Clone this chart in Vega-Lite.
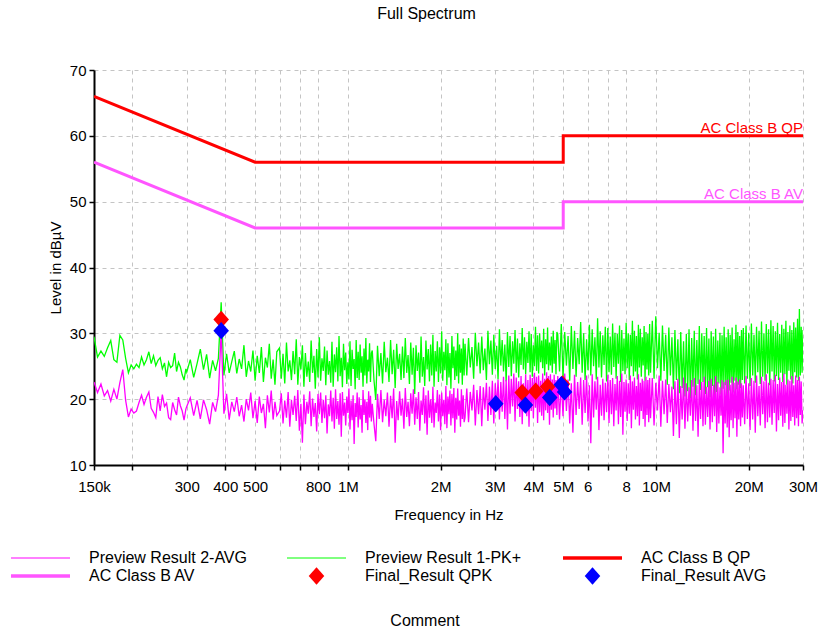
{
  "$schema": "https://vega.github.io/schema/vega-lite/v6.json",
  "width": 709,
  "height": 395,
  "autosize": {"type": "none"},
  "padding": {"left": 94, "top": 70, "right": 24, "bottom": 165},
  "background": "white",
  "config": {
    "font": "Liberation Sans",
    "view": {"stroke": null},
    "axis": {
      "domainColor": "black", "domainWidth": 2, "tickColor": "black", "tickWidth": 1.5, "tickSize": 5,
      "labelFont": "Liberation Sans", "labelFontSize": 15, "labelColor": "black",
      "titleFont": "Liberation Sans", "titleFontSize": 15, "titleFontWeight": "normal", "titleColor": "black",
      "grid": true, "gridColor": "#c4c4c4", "gridDash": [4, 4], "gridWidth": 1,
      "labelOverlap": false, "labelFlush": false, "labelBound": false
    }
  },
  "title": {
    "text": "Full Spectrum", "anchor": "middle", "frame": "group", "dx": -22, "offset": 41,
    "fontSize": 16, "fontWeight": "normal", "font": "Liberation Sans", "color": "black"
  },
  "datasets": {
    "trace": [
      {"f":0.150,"p":29.5,"a":22.6},{"f":0.154,"p":26.4,"a":21.0},{"f":0.158,"p":27.3,"a":22.3},{"f":0.162,"p":26.5,"a":20.5},{"f":0.166,"p":27.8,"a":21.3},{"f":0.170,"p":28.9,"a":19.7},{"f":0.174,"p":26.0,"a":21.5},{"f":0.178,"p":25.6,"a":20.0},{"f":0.182,"p":29.7,"a":22.5},{"f":0.186,"p":29.0,"a":24.5},{"f":0.190,"p":26.2,"a":19.8},{"f":0.194,"p":24.0,"a":17.3},{"f":0.198,"p":25.2,"a":18.5},{"f":0.202,"p":24.6,"a":17.9},{"f":0.206,"p":25.3,"a":18.2},{"f":0.210,"p":24.8,"a":19.5},{"f":0.214,"p":26.4,"a":20.6},{"f":0.218,"p":25.2,"a":19.2},{"f":0.222,"p":26.0,"a":20.3},{"f":0.226,"p":27.2,"a":21.1},{"f":0.230,"p":25.4,"a":18.6},{"f":0.234,"p":26.6,"a":18.0},{"f":0.238,"p":25.1,"a":17.2},{"f":0.242,"p":25.9,"a":20.4},{"f":0.246,"p":26.3,"a":18.2},{"f":0.250,"p":24.6,"a":20.7},{"f":0.254,"p":25.5,"a":18.9},{"f":0.258,"p":23.4,"a":19.4},{"f":0.262,"p":25.6,"a":17.2},{"f":0.266,"p":24.8,"a":16.9},{"f":0.270,"p":25.1,"a":19.5},{"f":0.274,"p":27.0,"a":18.4},{"f":0.278,"p":24.2,"a":17.6},{"f":0.282,"p":25.6,"a":20.3},{"f":0.286,"p":24.9,"a":19.0},{"f":0.290,"p":23.7,"a":18.2},{"f":0.294,"p":22.9,"a":16.8},{"f":0.298,"p":24.6,"a":18.5},
      {"f":0.300,"p":24.1,"a":18.9},{"f":0.308,"p":26.0,"a":20.2},{"f":0.316,"p":23.3,"a":17.5},{"f":0.324,"p":25.4,"a":19.8},{"f":0.332,"p":27.6,"a":17.0},{"f":0.340,"p":24.5,"a":19.9},{"f":0.348,"p":26.8,"a":18.4},{"f":0.356,"p":23.2,"a":16.2},{"f":0.364,"p":25.9,"a":19.5},{"f":0.372,"p":24.3,"a":18.1},{"f":0.380,"p":26.2,"a":20.6},{"f":0.388,"p":34.7,"a":30.4},{"f":0.396,"p":23.6,"a":17.8},{"f":0.404,"p":26.9,"a":20.8},{"f":0.412,"p":24.0,"a":16.9},{"f":0.420,"p":25.7,"a":19.6},{"f":0.428,"p":27.3,"a":18.1},{"f":0.436,"p":23.9,"a":20.3},{"f":0.444,"p":26.1,"a":17.4},{"f":0.452,"p":24.6,"a":19.1},{"f":0.460,"p":28.2,"a":16.6},{"f":0.468,"p":23.4,"a":20.0},{"f":0.476,"p":25.8,"a":18.3},{"f":0.484,"p":24.2,"a":21.0},{"f":0.492,"p":27.4,"a":17.1},{"f":0.500,"p":22.8,"a":19.7},{"f":0.508,"p":26.6,"a":16.4},{"f":0.516,"p":24.0,"a":20.4},{"f":0.524,"p":27.9,"a":17.9},{"f":0.532,"p":22.6,"a":19.3},{"f":0.540,"p":26.3,"a":15.6},{"f":0.548,"p":24.8,"a":20.6},{"f":0.556,"p":28.4,"a":18.0},{"f":0.564,"p":23.1,"a":21.3},{"f":0.572,"p":26.0,"a":16.9},{"f":0.580,"p":22.2,"a":19.6},{"f":0.588,"p":27.2,"a":17.5},
      {"f":0.600,"p":27.8,"a":18.2},{"f":0.608,"p":23.1,"a":20.9},{"f":0.616,"p":26.9,"a":16.3},{"f":0.624,"p":22.4,"a":19.8},{"f":0.632,"p":28.6,"a":17.2},{"f":0.640,"p":24.2,"a":21.1},{"f":0.648,"p":25.9,"a":15.8},{"f":0.656,"p":22.9,"a":19.9},{"f":0.664,"p":27.3,"a":17.6},{"f":0.672,"p":23.8,"a":20.5},
      {"f":0.680,"p":29.1,"a":16.7},{"f":0.688,"p":22.2,"a":21.4},{"f":0.696,"p":26.4,"a":15.2},{"f":0.704,"p":24.5,"a":19.3},{"f":0.712,"p":28.2,"a":13.4},{"f":0.720,"p":21.9,"a":20.7},{"f":0.728,"p":27.0,"a":16.2},{"f":0.736,"p":23.4,"a":19.6},{"f":0.744,"p":25.7,"a":17.8},{"f":0.752,"p":22.6,"a":21.2},
      {"f":0.760,"p":28.9,"a":15.9},{"f":0.768,"p":24.0,"a":20.1},{"f":0.776,"p":26.6,"a":17.3},{"f":0.784,"p":21.6,"a":19.4},{"f":0.792,"p":27.6,"a":15.1},{"f":0.800,"p":23.3,"a":20.8},{"f":0.808,"p":29.4,"a":17.7},{"f":0.816,"p":22.8,"a":21.0},{"f":0.824,"p":26.2,"a":16.4},{"f":0.832,"p":24.3,"a":19.9},
      {"f":0.840,"p":28.0,"a":17.1},{"f":0.848,"p":22.1,"a":20.6},{"f":0.856,"p":27.4,"a":14.8},{"f":0.864,"p":23.7,"a":19.2},{"f":0.872,"p":25.8,"a":17.4},{"f":0.880,"p":22.5,"a":21.3},{"f":0.888,"p":28.7,"a":16.6},{"f":0.896,"p":21.9,"a":20.2},{"f":0.904,"p":26.8,"a":15.5},{"f":0.912,"p":24.1,"a":21.5},
      {"f":0.920,"p":27.9,"a":17.0},{"f":0.928,"p":22.7,"a":19.7},{"f":0.936,"p":29.6,"a":16.1},{"f":0.944,"p":23.5,"a":20.9},{"f":0.952,"p":26.3,"a":14.3},{"f":0.960,"p":21.8,"a":21.1},{"f":0.968,"p":28.4,"a":17.5},{"f":0.976,"p":24.4,"a":19.5},{"f":0.984,"p":27.1,"a":16.0},{"f":0.992,"p":22.3,"a":20.4},
      {"f":1.000,"p":25.6,"a":17.9},{"f":1.008,"p":23.0,"a":21.6},{"f":1.016,"p":28.8,"a":15.4},{"f":1.024,"p":22.0,"a":19.8},{"f":1.032,"p":27.5,"a":16.8},{"f":1.040,"p":24.6,"a":20.6},{"f":1.048,"p":26.1,"a":13.2},{"f":1.056,"p":21.5,"a":19.4},{"f":1.064,"p":29.0,"a":17.3},{"f":1.072,"p":23.2,"a":21.0},
      {"f":1.080,"p":27.2,"a":15.7},{"f":1.088,"p":22.9,"a":20.3},{"f":1.096,"p":28.3,"a":16.9},{"f":1.104,"p":24.0,"a":19.1},{"f":1.112,"p":26.5,"a":14.9},{"f":1.120,"p":21.9,"a":21.4},{"f":1.128,"p":27.7,"a":17.6},{"f":1.136,"p":23.6,"a":20.0},{"f":1.144,"p":29.3,"a":16.4},{"f":1.152,"p":22.4,"a":19.6},
      {"f":1.160,"p":26.0,"a":15.3},{"f":1.168,"p":24.2,"a":21.2},{"f":1.176,"p":28.5,"a":17.2},{"f":1.184,"p":22.6,"a":20.5},{"f":1.192,"p":27.0,"a":16.6},
      {"f":1.200,"p":27.4,"a":19.3},{"f":1.216,"p":22.8,"a":16.2},{"f":1.232,"p":19.9,"a":13.6},{"f":1.248,"p":28.1,"a":20.8},{"f":1.264,"p":23.5,"a":17.0},{"f":1.280,"p":27.0,"a":21.4},{"f":1.296,"p":22.4,"a":16.5},{"f":1.312,"p":28.7,"a":19.9},{"f":1.328,"p":24.1,"a":17.4},{"f":1.344,"p":26.3,"a":21.0},
      {"f":1.360,"p":22.6,"a":15.8},{"f":1.376,"p":29.0,"a":20.5},{"f":1.392,"p":23.8,"a":17.1},{"f":1.408,"p":27.5,"a":21.6},{"f":1.424,"p":21.7,"a":13.4},{"f":1.440,"p":28.4,"a":19.7},{"f":1.456,"p":24.6,"a":16.8},{"f":1.472,"p":26.9,"a":21.2},{"f":1.488,"p":22.9,"a":17.5},{"f":1.504,"p":28.0,"a":20.1},
      {"f":1.520,"p":23.2,"a":15.5},{"f":1.536,"p":29.3,"a":21.7},{"f":1.552,"p":24.0,"a":17.3},{"f":1.568,"p":26.7,"a":19.6},{"f":1.584,"p":22.3,"a":15.9},{"f":1.600,"p":28.6,"a":20.9},{"f":1.616,"p":23.7,"a":17.8},{"f":1.632,"p":27.8,"a":21.5},{"f":1.648,"p":20.8,"a":16.1},{"f":1.664,"p":28.2,"a":20.3},
      {"f":1.680,"p":24.3,"a":17.0},{"f":1.696,"p":27.1,"a":21.1},{"f":1.712,"p":22.5,"a":15.2},{"f":1.728,"p":29.5,"a":19.8},{"f":1.744,"p":23.4,"a":17.6},{"f":1.760,"p":26.4,"a":21.8},{"f":1.776,"p":22.0,"a":16.3},{"f":1.792,"p":28.9,"a":20.6},{"f":1.808,"p":24.5,"a":14.6},{"f":1.824,"p":27.6,"a":21.3},
      {"f":1.840,"p":22.7,"a":17.2},{"f":1.856,"p":28.3,"a":20.0},{"f":1.872,"p":23.6,"a":16.4},{"f":1.888,"p":29.8,"a":21.9},{"f":1.904,"p":21.9,"a":15.7},{"f":1.920,"p":27.3,"a":19.5},{"f":1.936,"p":24.2,"a":17.9},{"f":1.952,"p":28.8,"a":21.4},{"f":1.968,"p":22.6,"a":16.6},{"f":1.984,"p":27.9,"a":20.7},
      {"f":2.000,"p":23.9,"a":15.3},{"f":2.016,"p":30.3,"a":21.0},{"f":2.032,"p":22.8,"a":17.4},{"f":2.048,"p":27.2,"a":19.9},{"f":2.064,"p":24.4,"a":16.2},{"f":2.080,"p":29.1,"a":22.0},{"f":2.096,"p":22.1,"a":15.6},{"f":2.112,"p":28.5,"a":20.4},{"f":2.128,"p":23.3,"a":17.7},{"f":2.144,"p":27.0,"a":21.3},
      {"f":2.160,"p":21.6,"a":16.0},{"f":2.176,"p":29.6,"a":20.8},{"f":2.192,"p":24.7,"a":17.1},{"f":2.208,"p":28.0,"a":21.7},{"f":2.224,"p":22.9,"a":14.9},{"f":2.240,"p":27.4,"a":20.2},{"f":2.256,"p":23.5,"a":16.9},{"f":2.272,"p":30.0,"a":21.6},{"f":2.288,"p":22.4,"a":17.5},{"f":2.304,"p":28.3,"a":19.8},
      {"f":2.320,"p":24.0,"a":15.8},{"f":2.336,"p":27.7,"a":21.5},{"f":2.352,"p":22.2,"a":17.0},{"f":2.368,"p":29.2,"a":20.6},{"f":2.384,"p":23.6,"a":16.5},
      {"f":2.400,"p":28.4,"a":17.2},{"f":2.432,"p":23.6,"a":21.6},{"f":2.464,"p":29.3,"a":16.5},{"f":2.496,"p":24.8,"a":21.1},{"f":2.528,"p":27.9,"a":18.3},{"f":2.560,"p":23.1,"a":22.2},{"f":2.592,"p":30.1,"a":16.0},{"f":2.624,"p":25.0,"a":21.4},{"f":2.656,"p":28.6,"a":17.7},{"f":2.688,"p":23.9,"a":22.0},
      {"f":2.720,"p":29.5,"a":15.9},{"f":2.752,"p":24.4,"a":21.8},{"f":2.784,"p":27.7,"a":18.4},{"f":2.816,"p":22.9,"a":22.5},{"f":2.848,"p":30.4,"a":16.7},{"f":2.880,"p":25.3,"a":21.9},{"f":2.912,"p":28.9,"a":17.6},{"f":2.944,"p":23.7,"a":22.8},{"f":2.976,"p":29.8,"a":16.3},{"f":3.008,"p":24.6,"a":22.4},
      {"f":3.040,"p":28.1,"a":18.8},{"f":3.072,"p":23.0,"a":23.0},{"f":3.104,"p":30.6,"a":16.9},{"f":3.136,"p":25.1,"a":22.6},{"f":3.168,"p":29.0,"a":18.1},{"f":3.200,"p":24.2,"a":23.4},{"f":3.232,"p":28.3,"a":17.0},{"f":3.264,"p":22.7,"a":22.9},{"f":3.296,"p":30.2,"a":15.4},{"f":3.328,"p":24.9,"a":23.6},
      {"f":3.360,"p":29.6,"a":17.8},{"f":3.392,"p":23.5,"a":23.1},{"f":3.424,"p":28.8,"a":18.9},{"f":3.456,"p":25.4,"a":23.9},{"f":3.488,"p":30.5,"a":16.6},{"f":3.520,"p":24.0,"a":23.3},{"f":3.552,"p":29.2,"a":18.5},{"f":3.584,"p":23.3,"a":22.7},{"f":3.616,"p":28.5,"a":17.3},{"f":3.648,"p":25.2,"a":23.5},
      {"f":3.680,"p":30.8,"a":16.2},{"f":3.712,"p":24.5,"a":22.4},{"f":3.744,"p":29.4,"a":18.6},{"f":3.776,"p":23.8,"a":23.8},{"f":3.808,"p":28.7,"a":17.4},{"f":3.840,"p":25.5,"a":22.9},{"f":3.872,"p":30.3,"a":15.8},{"f":3.904,"p":24.1,"a":23.7},{"f":3.936,"p":29.9,"a":18.2},{"f":3.968,"p":23.4,"a":23.2},
      {"f":4.000,"p":28.2,"a":17.1},{"f":4.032,"p":25.0,"a":24.0},{"f":4.064,"p":31.0,"a":18.7},{"f":4.096,"p":24.3,"a":23.4},{"f":4.128,"p":29.7,"a":16.4},{"f":4.160,"p":23.9,"a":23.6},{"f":4.192,"p":30.0,"a":18.0},{"f":4.224,"p":25.6,"a":22.8},{"f":4.256,"p":28.9,"a":17.5},{"f":4.288,"p":24.7,"a":23.9},
      {"f":4.320,"p":30.7,"a":16.8},{"f":4.352,"p":23.6,"a":23.1},{"f":4.384,"p":29.1,"a":18.3},{"f":4.416,"p":25.3,"a":24.1},{"f":4.448,"p":30.9,"a":17.9},{"f":4.480,"p":24.4,"a":23.5},{"f":4.512,"p":28.6,"a":16.1},{"f":4.544,"p":25.1,"a":23.8},{"f":4.576,"p":29.5,"a":18.4},{"f":4.608,"p":24.0,"a":23.0},
      {"f":4.640,"p":30.4,"a":17.2},{"f":4.672,"p":25.4,"a":23.7},{"f":4.704,"p":29.0,"a":18.6},{"f":4.736,"p":23.8,"a":22.9},{"f":4.768,"p":30.2,"a":17.6},
      {"f":4.800,"p":29.8,"a":23.5},{"f":4.864,"p":24.2,"a":16.9},{"f":4.928,"p":31.4,"a":22.8},{"f":4.992,"p":23.2,"a":17.4},{"f":5.056,"p":30.2,"a":23.9},{"f":5.120,"p":25.1,"a":18.2},{"f":5.184,"p":29.6,"a":23.0},{"f":5.248,"p":22.8,"a":16.3},{"f":5.312,"p":31.1,"a":22.4},{"f":5.376,"p":24.6,"a":14.9},
      {"f":5.440,"p":30.4,"a":23.7},{"f":5.504,"p":23.4,"a":17.6},{"f":5.568,"p":29.3,"a":22.6},{"f":5.632,"p":25.3,"a":18.5},{"f":5.696,"p":31.7,"a":23.3},{"f":5.760,"p":24.0,"a":16.1},{"f":5.824,"p":30.0,"a":22.9},{"f":5.888,"p":22.9,"a":17.9},{"f":5.952,"p":29.1,"a":23.6},{"f":6.016,"p":24.4,"a":16.6},
      {"f":6.080,"p":31.3,"a":22.1},{"f":6.144,"p":23.6,"a":13.3},{"f":6.208,"p":30.6,"a":23.8},{"f":6.272,"p":25.0,"a":17.2},{"f":6.336,"p":29.4,"a":22.7},{"f":6.400,"p":23.0,"a":18.4},{"f":6.464,"p":32.3,"a":23.4},{"f":6.528,"p":24.8,"a":15.3},{"f":6.592,"p":30.3,"a":22.2},{"f":6.656,"p":23.3,"a":17.5},
      {"f":6.720,"p":29.7,"a":23.1},{"f":6.784,"p":25.2,"a":16.8},{"f":6.848,"p":31.0,"a":22.5},{"f":6.912,"p":22.7,"a":18.0},{"f":6.976,"p":30.8,"a":23.7},{"f":7.040,"p":24.1,"a":16.4},{"f":7.104,"p":29.5,"a":22.9},{"f":7.168,"p":23.7,"a":17.7},{"f":7.232,"p":31.5,"a":23.2},{"f":7.296,"p":24.9,"a":15.9},
      {"f":7.360,"p":30.1,"a":22.3},{"f":7.424,"p":23.1,"a":18.3},{"f":7.488,"p":29.9,"a":23.5},{"f":7.552,"p":25.4,"a":16.2},{"f":7.616,"p":31.2,"a":22.8},{"f":7.680,"p":22.6,"a":17.3},{"f":7.744,"p":30.5,"a":23.9},{"f":7.808,"p":24.3,"a":14.6},{"f":7.872,"p":29.2,"a":22.6},{"f":7.936,"p":23.8,"a":18.1},
      {"f":8.000,"p":31.6,"a":23.0},{"f":8.064,"p":24.7,"a":16.7},{"f":8.128,"p":30.0,"a":22.4},{"f":8.192,"p":22.9,"a":17.8},{"f":8.256,"p":29.8,"a":23.6},{"f":8.320,"p":25.0,"a":15.6},{"f":8.384,"p":31.9,"a":22.7},{"f":8.448,"p":23.5,"a":18.4},{"f":8.512,"p":30.4,"a":23.3},{"f":8.576,"p":24.2,"a":16.9},
      {"f":8.640,"p":29.6,"a":22.0},{"f":8.704,"p":23.0,"a":17.4},{"f":8.768,"p":31.3,"a":23.8},{"f":8.832,"p":24.8,"a":16.0},{"f":8.896,"p":30.7,"a":22.5},{"f":8.960,"p":23.4,"a":18.2},{"f":9.024,"p":29.4,"a":23.1},{"f":9.088,"p":25.1,"a":17.0},{"f":9.152,"p":31.1,"a":22.8},{"f":9.216,"p":22.8,"a":15.8},
      {"f":9.280,"p":30.2,"a":23.4},{"f":9.344,"p":24.5,"a":17.6},{"f":9.408,"p":29.9,"a":22.9},{"f":9.472,"p":23.6,"a":16.5},{"f":9.536,"p":31.4,"a":23.2},
      {"f":9.600,"p":24.0,"a":17.1},{"f":9.728,"p":31.9,"a":23.2},{"f":9.856,"p":23.1,"a":16.0},{"f":9.984,"p":32.6,"a":22.5},{"f":10.112,"p":24.7,"a":18.3},{"f":10.240,"p":30.1,"a":23.6},{"f":10.368,"p":22.8,"a":15.8},{"f":10.496,"p":31.2,"a":22.8},{"f":10.624,"p":24.3,"a":17.7},{"f":10.752,"p":29.8,"a":23.0},
      {"f":10.880,"p":22.2,"a":16.4},{"f":11.008,"p":30.9,"a":22.3},{"f":11.136,"p":23.6,"a":18.0},{"f":11.264,"p":29.4,"a":21.9},{"f":11.392,"p":21.5,"a":14.4},{"f":11.520,"p":30.5,"a":22.7},{"f":11.648,"p":22.9,"a":16.2},{"f":11.776,"p":29.1,"a":23.1},{"f":11.904,"p":20.9,"a":14.1},{"f":12.032,"p":30.2,"a":22.0},
      {"f":12.160,"p":21.7,"a":16.9},{"f":12.288,"p":28.8,"a":23.3},{"f":12.416,"p":20.4,"a":15.5},{"f":12.544,"p":29.9,"a":22.4},{"f":12.672,"p":21.2,"a":16.6},{"f":12.800,"p":30.6,"a":21.8},{"f":12.928,"p":20.1,"a":17.5},{"f":13.056,"p":29.3,"a":22.9},{"f":13.184,"p":21.9,"a":15.2},{"f":13.312,"p":30.4,"a":23.2},
      {"f":13.440,"p":20.6,"a":16.7},{"f":13.568,"p":29.0,"a":22.1},{"f":13.696,"p":22.3,"a":14.3},{"f":13.824,"p":31.1,"a":23.0},{"f":13.952,"p":21.4,"a":17.0},{"f":14.080,"p":30.0,"a":22.6},{"f":14.208,"p":22.6,"a":15.9},{"f":14.336,"p":29.6,"a":23.4},{"f":14.464,"p":20.8,"a":16.1},{"f":14.592,"p":30.8,"a":21.9},
      {"f":14.720,"p":21.8,"a":17.3},{"f":14.848,"p":29.2,"a":22.8},{"f":14.976,"p":20.3,"a":15.4},{"f":15.104,"p":30.3,"a":23.1},{"f":15.232,"p":22.0,"a":16.5},{"f":15.360,"p":29.5,"a":22.2},{"f":15.488,"p":19.9,"a":17.4},{"f":15.616,"p":30.7,"a":23.5},{"f":15.744,"p":21.1,"a":15.0},{"f":15.872,"p":28.9,"a":22.6},
      {"f":16.000,"p":22.4,"a":16.3},{"f":16.128,"p":30.1,"a":21.8},{"f":16.256,"p":20.7,"a":17.5},{"f":16.384,"p":29.7,"a":22.9},{"f":16.512,"p":21.6,"a":11.8},{"f":16.640,"p":31.0,"a":22.6},{"f":16.768,"p":22.1,"a":16.3},{"f":16.896,"p":29.4,"a":22.9},{"f":17.024,"p":20.5,"a":15.7},{"f":17.152,"p":30.6,"a":23.0},
      {"f":17.280,"p":21.3,"a":14.2},{"f":17.408,"p":29.8,"a":22.2},{"f":17.536,"p":22.5,"a":16.8},{"f":17.664,"p":30.9,"a":23.4},{"f":17.792,"p":21.0,"a":15.6},{"f":17.920,"p":29.1,"a":22.5},{"f":18.048,"p":22.8,"a":17.1},{"f":18.176,"p":31.3,"a":23.3},{"f":18.304,"p":21.5,"a":14.3},{"f":18.432,"p":30.2,"a":22.7},
      {"f":18.560,"p":22.2,"a":16.9},{"f":18.688,"p":29.6,"a":23.0},{"f":18.816,"p":21.7,"a":15.9},{"f":18.944,"p":30.5,"a":22.4},{"f":19.072,"p":22.9,"a":17.2},
      {"f":19.2,"p":30.8,"a":22.1},{"f":19.4,"p":22.4,"a":16.2},{"f":19.6,"p":31.2,"a":23.5},{"f":19.8,"p":23.1,"a":17.0},{"f":20.0,"p":30.1,"a":22.4},{"f":20.2,"p":22.0,"a":15.3},{"f":20.4,"p":31.5,"a":23.2},{"f":20.6,"p":23.6,"a":16.9},{"f":20.8,"p":29.8,"a":22.8},{"f":21.0,"p":22.5,"a":14.9},
      {"f":21.2,"p":31.0,"a":23.6},{"f":21.4,"p":24.1,"a":17.4},{"f":21.6,"p":30.4,"a":22.0},{"f":21.8,"p":22.3,"a":16.0},{"f":22.0,"p":31.8,"a":23.4},{"f":22.2,"p":23.4,"a":17.7},{"f":22.4,"p":30.0,"a":22.7},{"f":22.6,"p":22.8,"a":15.6},{"f":22.8,"p":31.4,"a":23.8},{"f":23.0,"p":23.9,"a":16.5},
      {"f":23.2,"p":30.6,"a":22.5},{"f":23.4,"p":22.1,"a":17.2},{"f":23.6,"p":32.0,"a":23.1},{"f":23.8,"p":24.2,"a":16.1},{"f":24.0,"p":31.1,"a":22.9},{"f":24.2,"p":22.7,"a":17.9},{"f":24.4,"p":30.3,"a":23.7},{"f":24.6,"p":23.5,"a":15.1},{"f":24.8,"p":31.6,"a":22.3},{"f":25.0,"p":22.9,"a":16.8},
      {"f":25.2,"p":29.9,"a":23.3},{"f":25.4,"p":24.0,"a":17.5},{"f":25.6,"p":31.3,"a":22.6},{"f":25.8,"p":22.6,"a":15.8},{"f":26.0,"p":30.7,"a":23.9},{"f":26.2,"p":23.8,"a":16.4},{"f":26.4,"p":31.9,"a":22.2},{"f":26.6,"p":22.2,"a":17.8},{"f":26.8,"p":30.2,"a":23.0},{"f":27.0,"p":24.3,"a":15.4},
      {"f":27.2,"p":31.2,"a":22.8},{"f":27.4,"p":23.0,"a":16.7},{"f":27.6,"p":30.5,"a":23.5},{"f":27.8,"p":22.4,"a":17.3},{"f":28.0,"p":31.7,"a":22.1},{"f":28.2,"p":24.1,"a":16.0},{"f":28.4,"p":30.9,"a":23.6},{"f":28.6,"p":23.3,"a":17.1},{"f":28.8,"p":32.2,"a":22.9},{"f":29.0,"p":22.8,"a":15.9},
      {"f":29.2,"p":33.7,"a":23.4},{"f":29.4,"p":23.6,"a":17.6},{"f":29.6,"p":31.0,"a":22.7},{"f":29.8,"p":24.0,"a":16.3},{"f":30.0,"p":30.5,"a":18.3}
    ],
    "limits": [
      {"i":0,"f":0.15,"v":66,"s":"AC Class B QP"},{"i":1,"f":0.5,"v":56,"s":"AC Class B QP"},{"i":2,"f":5,"v":56,"s":"AC Class B QP"},{"i":3,"f":5,"v":60,"s":"AC Class B QP"},{"i":4,"f":30,"v":60,"s":"AC Class B QP"},
      {"i":0,"f":0.15,"v":56,"s":"AC Class B AV"},{"i":1,"f":0.5,"v":46,"s":"AC Class B AV"},{"i":2,"f":5,"v":46,"s":"AC Class B AV"},{"i":3,"f":5,"v":50,"s":"AC Class B AV"},{"i":4,"f":30,"v":50,"s":"AC Class B AV"}
    ],
    "labels": [
      {"f":30,"v":60,"s":"AC Class B QP"},
      {"f":30,"v":50,"s":"AC Class B AV"}
    ],
    "markers": [
      {"f":0.388,"v":32.1,"s":"Final_Result QPK"},{"f":3.68,"v":21.0,"s":"Final_Result QPK"},{"f":4.07,"v":21.2,"s":"Final_Result QPK"},{"f":4.45,"v":21.9,"s":"Final_Result QPK"},{"f":4.97,"v":22.3,"s":"Final_Result QPK"},
      {"f":0.388,"v":30.4,"s":"Final_Result AVG"},{"f":3.02,"v":19.3,"s":"Final_Result AVG"},{"f":3.77,"v":19.1,"s":"Final_Result AVG"},{"f":4.52,"v":20.25,"s":"Final_Result AVG"},{"f":4.93,"v":22.2,"s":"Final_Result AVG"},{"f":5.05,"v":21.1,"s":"Final_Result AVG"}
    ]
  },
  "layer": [
    {
      "data": {"name": "trace"},
      "mark": {"type": "line", "strokeWidth": 1.3, "clip": true},
      "encoding": {
        "x": {"field": "f", "type": "quantitative", "title": "Frequency in Hz",
          "scale": {"type": "log", "domain": [0.15, 30], "nice": false},
          "axis": {
            "values": [0.15,0.2,0.3,0.4,0.5,0.6,0.7,0.8,1,2,3,4,5,6,7,8,10,20,30],
            "labelExpr": "datum.value==0.15?'150k':datum.value==0.3?'300':datum.value==0.4?'400':datum.value==0.5?'500':datum.value==0.8?'800':datum.value==1?'1M':datum.value==2?'2M':datum.value==3?'3M':datum.value==4?'4M':datum.value==5?'5M':datum.value==6?'6':datum.value==8?'8':datum.value==10?'10M':datum.value==20?'20M':datum.value==30?'30M':''",
            "labelPadding": 9, "titlePadding": 13
          }
        },
        "y": {"field": "p", "type": "quantitative", "title": "Level in dBµV",
          "scale": {"domain": [10, 70], "nice": false, "zero": false},
          "axis": {
            "values": [10,15,20,25,30,35,40,45,50,55,60,65,70],
            "labelExpr": "datum.value % 10 == 0 ? datum.label : ''",
            "labelPadding": 3, "titlePadding": 6
          }
        },
        "color": {"datum": "Preview Result 1-PK+", "type": "nominal",
          "scale": {
            "domain": ["Preview Result 2-AVG", "Preview Result 1-PK+", "AC Class B QP", "AC Class B AV", "Final_Result QPK", "Final_Result AVG"],
            "range": ["#FF00FF", "#00FF00", "#FF0000", "#FF55FF", "#FF0000", "#0000FF"]
          },
          "legend": {
            "orient": "none", "legendX": -83, "legendY": 479, "columns": 3, "direction": "horizontal",
            "gridAlign": "all", "columnPadding": 40, "rowPadding": 0, "padding": 0, "clipHeight": 18,
            "symbolType": "stroke", "symbolSize": 3481, "symbolStrokeWidth": 1, "symbolOffset": 0,
            "labelFont": "Liberation Sans", "labelFontSize": 16, "labelColor": "black", "labelOffset": 19, "labelLimit": 400,
            "title": "Comment", "titleOrient": "bottom", "titleAnchor": "middle", "titleFont": "Liberation Sans",
            "titleFontSize": 16, "titleFontWeight": "normal", "titleColor": "black", "titlePadding": 28,
            "encode": {
              "symbols": {"update": {
                "x": {"value": 29.5},
                "shape": {"signal": "indexof(['Final_Result QPK','Final_Result AVG'], datum.value) >= 0 ? 'M-0.9,0L0,-1L0.9,0L0,1Z' : 'stroke'"},
                "size": {"signal": "indexof(['Final_Result QPK','Final_Result AVG'], datum.value) >= 0 ? 300 : 3481"},
                "strokeWidth": {"signal": "indexof(['Preview Result 2-AVG','Preview Result 1-PK+'], datum.value) >= 0 ? 1 : (indexof(['Final_Result QPK','Final_Result AVG'], datum.value) >= 0 ? 0 : 3.5)"},
                "fill": {"signal": "indexof(['Final_Result QPK','Final_Result AVG'], datum.value) >= 0 ? scale('color', datum.value) : 'transparent'"},
                "stroke": {"signal": "scale('color', datum.value)"},
                "opacity": {"value": 1}
              }},
              "labels": {"update": {"x": {"value": 78}}},
              "title": {"update": {"dx": {"value": 36}}}
            }
          }
        }
      }
    },
    {
      "data": {"name": "trace"},
      "mark": {"type": "line", "strokeWidth": 1.3, "clip": true},
      "encoding": {
        "x": {"field": "f", "type": "quantitative", "title": "Frequency in Hz"},
        "y": {"field": "a", "type": "quantitative", "title": "Level in dBµV"},
        "color": {"datum": "Preview Result 2-AVG", "type": "nominal"}
      }
    },
    {
      "data": {"name": "limits"},
      "mark": {"type": "line", "strokeWidth": 3, "clip": true},
      "encoding": {
        "x": {"field": "f", "type": "quantitative", "title": "Frequency in Hz"},
        "y": {"field": "v", "type": "quantitative", "title": "Level in dBµV"},
        "order": {"field": "i", "type": "quantitative"},
        "color": {"field": "s", "type": "nominal"}
      }
    },
    {
      "data": {"name": "labels"},
      "mark": {"type": "text", "align": "right", "baseline": "alphabetic", "dy": -3, "fontSize": 15, "font": "Liberation Sans"},
      "encoding": {
        "x": {"field": "f", "type": "quantitative", "title": "Frequency in Hz"},
        "y": {"field": "v", "type": "quantitative", "title": "Level in dBµV"},
        "text": {"field": "s"},
        "color": {"field": "s", "type": "nominal"}
      }
    },
    {
      "data": {"name": "markers"},
      "mark": {"type": "point", "filled": true, "opacity": 1, "size": 300, "strokeWidth": 0, "shape": "M-0.9,0L0,-1L0.9,0L0,1Z"},
      "encoding": {
        "x": {"field": "f", "type": "quantitative", "title": "Frequency in Hz"},
        "y": {"field": "v", "type": "quantitative", "title": "Level in dBµV"},
        "color": {"field": "s", "type": "nominal"}
      }
    }
  ]
}
